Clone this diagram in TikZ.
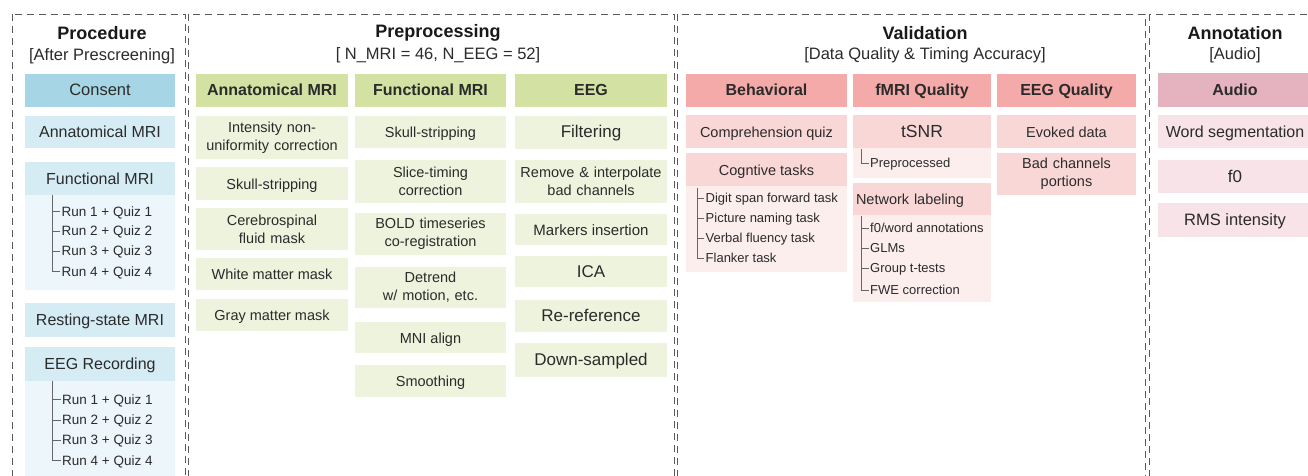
\documentclass[tikz,border=0pt]{standalone}
\usepackage{fontspec}
\setmainfont{Liberation Sans}
\newcommand{\setfs}[1]{\fontsize{#1}{#1}\selectfont}

\definecolor{procDark}{HTML}{A6D6E6}
\definecolor{procMid}{HTML}{D5ECF4}
\definecolor{procLight}{HTML}{EDF6FA}
\definecolor{greenHd}{HTML}{D3E2A2}
\definecolor{greenItem}{HTML}{EEF3DD}
\definecolor{pinkHd}{HTML}{F5AAAA}
\definecolor{pinkItem}{HTML}{FAD7D7}
\definecolor{pinkLight}{HTML}{FDEEEE}
\definecolor{audioHd}{HTML}{E5B2C0}
\definecolor{audioItem}{HTML}{F7E3E8}
\definecolor{inkText}{HTML}{2B2B2B}

\tikzset{
  panel/.style={draw=black!65, line width=0.9pt, dash pattern=on 7pt off 5pt},
  ttl/.style={inner sep=0, font=\setfs{18}\bfseries, text=black!90},
  subttl/.style={inner sep=0, font=\setfs{16.5}, text=inkText},
  cell/.style={inner sep=0, align=center, text=inkText},
  sl/.style={text height=11pt, text depth=0pt},
  hd/.style={cell, sl, font=\setfs{16}\bfseries},
  leaf/.style={anchor=west, inner xsep=1.5pt, inner ysep=0, text height=9.5pt, text depth=0pt,
               font=\setfs{13}, text=inkText},
  tree/.style={draw=black!60, line width=0.7pt},
  bg/.style={inner sep=0, anchor=north west}
}

\begin{document}
\begin{tikzpicture}[x=1pt,y=-1pt]
\clip (0,0) rectangle (1308,476);
\fill[white] (0,0) rectangle (1308,476);

% dashed column frames
\draw[panel] (12,14) rectangle (185,530);
\draw[panel] (188,14) rectangle (674,530);
\draw[panel] (677,14) rectangle (1145,530);
\draw[panel] (1149,14) rectangle (1330,530);

% ---------------- Procedure ----------------
\node[ttl] (tproc) at (102,33) {Procedure};
\node[subttl] (sproc) at (102,56) {[After Prescreening]};

\node[cell, sl, fill=procDark, minimum width=150, minimum height=33, font=\setfs{16.5}] (consent) at (100,90.5) {Consent};
\node[cell, sl, fill=procMid, minimum width=150, minimum height=31, font=\setfs{16}] (anat) at (100,132) {Annatomical MRI};
\node[bg, fill=procLight, minimum width=150, minimum height=95] (fmripanel) at (25,195) {};
\node[cell, sl, fill=procMid, minimum width=150, minimum height=33, font=\setfs{16}] (fmri) at (100,178.5) {Functional MRI};
\node[cell, sl, fill=procMid, minimum width=150, minimum height=34, font=\setfs{16}] (rest) at (100,320) {Resting-state MRI};
\node[bg, fill=procLight, minimum width=150, minimum height=110] (eegpanel) at (25,381) {};
\node[cell, sl, fill=procMid, minimum width=150, minimum height=34, font=\setfs{16}] (eegrec) at (100,364) {EEG Recording};

\coordinate (ftree) at (52,195);
\node[leaf, font=\setfs{13.5}] (fr1) at (60,211.5) {Run 1 + Quiz 1};
\node[leaf, font=\setfs{13.5}] (fr2) at (60,231) {Run 2 + Quiz 2};
\node[leaf, font=\setfs{13.5}] (fr3) at (60,251) {Run 3 + Quiz 3};
\node[leaf, font=\setfs{13.5}] (fr4) at (60,271.5) {Run 4 + Quiz 4};
\foreach \r in {fr1,fr2,fr3,fr4} \draw[tree] (ftree) |- (\r.west);

\coordinate (etree) at (52.5,381);
\node[leaf, font=\setfs{13.5}] (er1) at (60.5,399.5) {Run 1 + Quiz 1};
\node[leaf, font=\setfs{13.5}] (er2) at (60.5,420) {Run 2 + Quiz 2};
\node[leaf, font=\setfs{13.5}] (er3) at (60.5,440) {Run 3 + Quiz 3};
\node[leaf, font=\setfs{13.5}] (er4) at (60.5,460.5) {Run 4 + Quiz 4};
\foreach \r in {er1,er2,er3,er4} \draw[tree] (etree) |- (\r.west);

% ---------------- Preprocessing ----------------
\node[ttl] (tpre) at (438,33) {Preprocessing};
\node[subttl] (spre) at (438,55) {[ N\_MRI = 46, N\_EEG = 52]};

\node[hd, fill=greenHd, minimum width=152, minimum height=33] (hanat) at (272,90.5) {Annatomical MRI};
\node[hd, fill=greenHd, minimum width=151, minimum height=33] (hfunc) at (430.5,90.5) {Functional MRI};
\node[hd, fill=greenHd, minimum width=152, minimum height=33] (heeg) at (591,90.5) {EEG};

\tikzset{gcell/.style={cell, fill=greenItem, font=\setfs{14.5}},
         two/.style={text width=150, font=\fontsize{14.5}{18}\selectfont}}
% anatomical column
\node[gcell, two, minimum width=152, minimum height=42] (a1) at (272,137.5) {Intensity non-\\uniformity correction};
\node[gcell, sl, minimum width=152, minimum height=33] (a2) at (272,183.5) {Skull-stripping};
\node[gcell, two, minimum width=152, minimum height=42] (a3) at (272,229) {Cerebrospinal\\fluid mask};
\node[gcell, sl, minimum width=152, minimum height=32] (a4) at (272,274) {White matter mask};
\node[gcell, sl, minimum width=152, minimum height=32] (a5) at (272,315) {Gray matter mask};
% functional column
\node[gcell, sl, minimum width=151, minimum height=32] (f1) at (430.5,132) {Skull-stripping};
\node[gcell, two, minimum width=151, minimum height=43] (f2) at (430.5,181.5) {Slice-timing\\correction};
\node[gcell, two, minimum width=151, minimum height=42] (f3) at (430.5,234) {BOLD timeseries\\co-registration};
\node[gcell, two, minimum width=151, minimum height=41] (f4) at (430.5,287.5) {Detrend\\w/ motion, etc.};
\node[gcell, sl, minimum width=151, minimum height=31] (f5) at (430.5,337.5) {MNI align};
\node[gcell, sl, minimum width=151, minimum height=32] (f6) at (430.5,381) {Smoothing};
% EEG column
\node[gcell, sl, minimum width=152, minimum height=33, font=\setfs{17}] (e1) at (591,132.5) {Filtering};
\node[gcell, two, minimum width=152, minimum height=43] (e2) at (591,181.5) {Remove \& interpolate\\bad channels};
\node[gcell, sl, minimum width=152, minimum height=31, font=\setfs{15}] (e3) at (591,229.5) {Markers insertion};
\node[gcell, sl, minimum width=152, minimum height=31, font=\setfs{17}] (e4) at (591,271.5) {ICA};
\node[gcell, sl, minimum width=152, minimum height=32, font=\setfs{17}] (e5) at (591,316) {Re-reference};
\node[gcell, sl, minimum width=152, minimum height=34, font=\setfs{17}] (e6) at (591,360) {Down-sampled};

% ---------------- Validation ----------------
\node[ttl] (tval) at (925,33) {Validation};
\node[subttl] (sval) at (925,55) {[Data Quality \& Timing Accuracy]};

\node[hd, fill=pinkHd, minimum width=161, minimum height=33] (hbeh) at (766.5,90.5) {Behavioral};
\node[hd, fill=pinkHd, minimum width=138, minimum height=33] (hfq) at (922,90.5) {fMRI Quality};
\node[hd, fill=pinkHd, minimum width=139, minimum height=33] (heq) at (1066.5,90.5) {EEG Quality};

\tikzset{pcell/.style={cell, fill=pinkItem, font=\setfs{14.5}}}
\node[pcell, sl, minimum width=161, minimum height=33] (quiz) at (766.5,131.5) {Comprehension quiz};
\node[bg, fill=pinkLight, minimum width=161, minimum height=86] (cogpanel) at (686,186) {};
\node[pcell, sl, minimum width=161, minimum height=33] (cog) at (766.5,169.5) {Cogntive tasks};
\coordinate (ctree) at (697,188);
\node[leaf] (c1) at (704,198) {Digit span forward task};
\node[leaf] (c2) at (704,218) {Picture naming task};
\node[leaf] (c3) at (704,238) {Verbal fluency task};
\node[leaf] (c4) at (704,258) {Flanker task};
\foreach \r in {c1,c2,c3,c4} \draw[tree] (ctree) |- (\r.west);

\node[bg, fill=pinkLight, minimum width=138, minimum height=30] (tsnrpanel) at (853,148) {};
\node[pcell, sl, minimum width=138, minimum height=33, font=\setfs{17.5}] (tsnr) at (922,131.5) {tSNR};
\coordinate (ttree) at (861,149);
\node[leaf] (prep) at (868.5,163) {Preprocessed};
\draw[tree] (ttree) |- (prep.west);

\node[bg, fill=pinkLight, minimum width=138, minimum height=87] (netpanel) at (853,215) {};
\node[pcell, sl, minimum width=138, minimum height=32, text width=132, align=left] (net) at (922,199) {Network labeling};
\coordinate (ntree) at (861,216);
\node[leaf] (n1) at (868.5,228) {f0/word annotations};
\node[leaf] (n2) at (868.5,248) {GLMs};
\node[leaf] (n3) at (868.5,268) {Group t-tests};
\node[leaf] (n4) at (868.5,290) {FWE correction};
\foreach \r in {n1,n2,n3,n4} \draw[tree] (ntree) |- (\r.west);

\node[pcell, sl, minimum width=139, minimum height=33] (evoked) at (1066.5,131.5) {Evoked data};
\node[pcell, two, text width=137, minimum width=139, minimum height=42] (badch) at (1066.5,174) {Bad channels\\portions};

% ---------------- Annotation ----------------
\node[ttl] (tann) at (1235,33) {Annotation};
\node[subttl] (sann) at (1235,55) {[Audio]};

\node[hd, fill=audioHd, minimum width=154, minimum height=34] (haudio) at (1235,90.5) {Audio};
\tikzset{acell/.style={cell, sl, fill=audioItem, font=\setfs{16}}}
\node[acell, minimum width=154, minimum height=33] (word) at (1235,131.5) {Word segmentation};
\node[acell, minimum width=154, minimum height=33, font=\setfs{17}] (ffzero) at (1235,176.5) {f0};
\node[acell, minimum width=154, minimum height=34, font=\setfs{16.5}] (rms) at (1235,220) {RMS intensity};
\end{tikzpicture}
\end{document}
